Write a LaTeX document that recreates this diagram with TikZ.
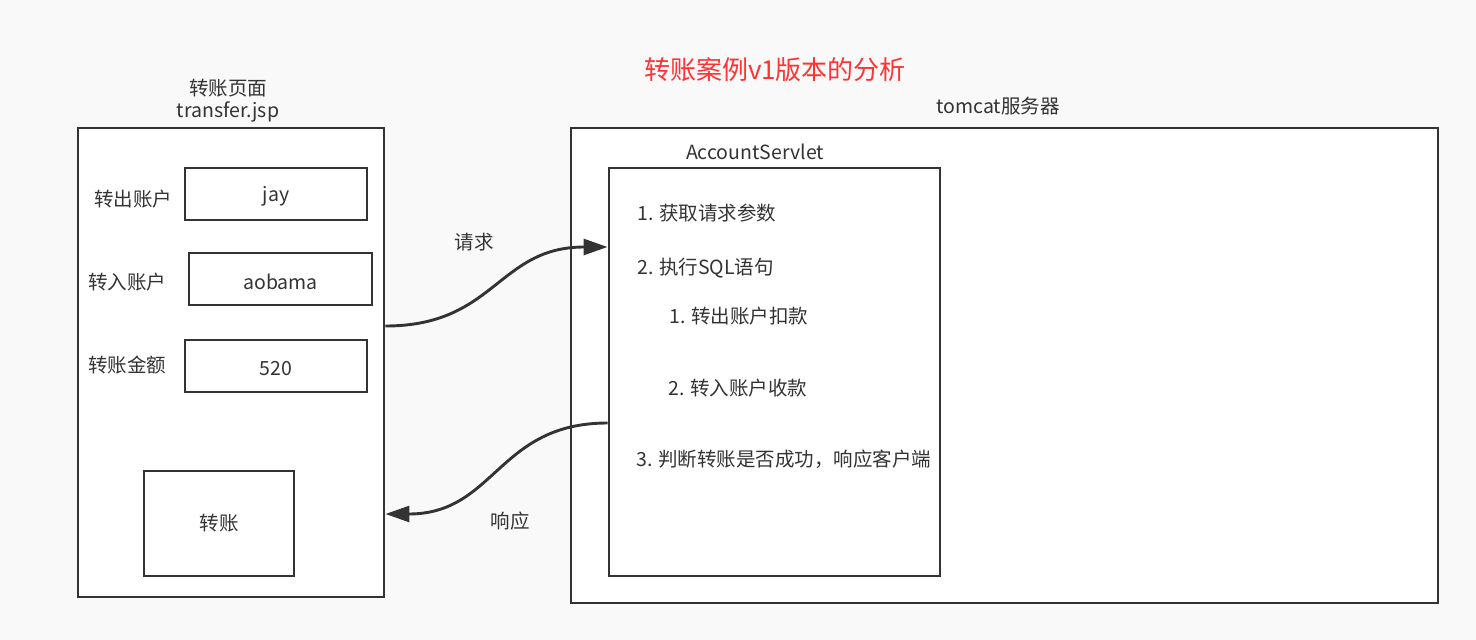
\documentclass[tikz,border=0pt]{standalone}
\usepackage{fontspec}
\setmainfont{Noto Sans CJK SC}
\usetikzlibrary{arrows.meta}
\definecolor{bg}{HTML}{F9F9F9}
\definecolor{ink}{HTML}{333333}
\definecolor{titlered}{HTML}{FF3333}
\begin{document}
\begin{tikzpicture}[x=1pt,y=-1pt,
  box/.style={draw=ink, line width=2.9pt, fill=white, inner sep=0pt},
  txt/.style={text=ink, inner sep=0pt, font=\fontsize{19.5}{23}\selectfont},
  fieldtxt/.style={txt, yshift=-2.5pt},
  lefttxt/.style={txt, anchor=west},
  flow/.style={draw=ink, line width=2.9pt, -{Triangle[length=24pt,width=16pt]}}]
  % canvas
  \fill[bg] (0,0) rectangle (1476,640);
  \useasboundingbox (0,0) rectangle (1476,640);

  % title
  \node[text=titlered, inner sep=0pt, font=\fontsize{26}{30}\selectfont] (title) at (775,70) {转账案例v1版本的分析};

  % transfer page
  \node[box, minimum width=306, minimum height=469] (page) at (231,362.5) {};
  \node[txt] (pagename) at (228,88) {转账页面};
  \node[txt] (pagefile) at (228,112) {transfer.jsp};

  \node[box, minimum width=182, minimum height=52] (fromfield) at (276,194) {};
  \node[fieldtxt] (fromvalue) at (fromfield) {jay};
  \node[txt] (fromlabel) at (133,199) {转出账户};

  \node[box, minimum width=183, minimum height=52] (tofield) at (280.5,279) {};
  \node[fieldtxt] (tovalue) at (tofield) {aobama};
  \node[txt] (tolabel) at (127,282) {转入账户};

  \node[box, minimum width=182, minimum height=52] (amountfield) at (276,366) {};
  \node[fieldtxt] (amountvalue) at (amountfield) {520};
  \node[txt] (amountlabel) at (127,365) {转账金额};

  \node[box, minimum width=150, minimum height=105] (submit) at (219,523.5) {};
  \node[txt] (submittext) at (submit) {转账};

  % server side
  \node[box, minimum width=867, minimum height=475] (tomcat) at (1004.5,365.5) {};
  \node[txt] (tomcatname) at (998,106) {tomcat服务器};

  \node[box, minimum width=331, minimum height=408] (servlet) at (774.5,372) {};
  \node[txt] (servletname) at (755,152) {AccountServlet};

  \node[lefttxt] (s1) at (637,213) {1. 获取请求参数};
  \node[lefttxt] (s2) at (637,268) {2. 执行SQL语句};
  \node[lefttxt] (s21) at (669,316) {1. 转出账户扣款};
  \node[lefttxt] (s22) at (668,388) {2. 转入账户收款};
  \node[lefttxt] (s3) at (636,459) {3. 判断转账是否成功，响应客户端};

  % request / response
  \draw[flow] ([yshift=36.5pt]page.east) .. controls +(110,0) and +(-110,0) .. ([yshift=125pt]servlet.west);
  \node[txt] (reqlabel) at (474,242) {请求};

  \draw[flow] ([yshift=-51pt]servlet.west) .. controls +(-110,0) and +(110,0) .. ([yshift=-151.5pt]page.east);
  \node[txt] (resplabel) at (510,521) {响应};
\end{tikzpicture}
\end{document}
